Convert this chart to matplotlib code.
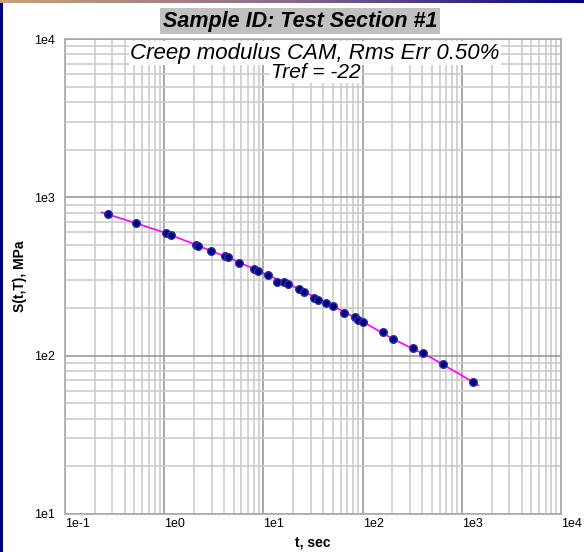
import numpy as np
import matplotlib.pyplot as plt
from matplotlib.ticker import LogLocator, FixedLocator, NullFormatter
from matplotlib.colors import LinearSegmentedColormap

plt.rcParams['font.family'] = ['Liberation Sans', 'DejaVu Sans']

# measured creep modulus points
t_data = [0.273, 0.52, 1.035, 1.163, 2.09, 2.21, 2.96, 4.10, 4.43, 5.71,
          8.10, 8.89, 11.1, 13.6, 16.1, 17.5, 22.7, 25.5, 32.1, 35.3,
          43.1, 50.3, 65.2, 83.2, 90.5, 101.6, 159.5, 201, 324, 406,
          642, 1297]
s_data = [781, 685, 593, 575, 502, 493, 458, 428, 418, 387,
          353, 342, 323, 293, 290, 284, 263, 251, 232, 225,
          214, 206, 187, 175, 168, 163, 141, 128, 111, 103.5,
          88, 68.2]

# CAM fit curve
t_fit = [0.234, 0.5, 1, 2, 5, 10, 20, 50, 100, 200, 500, 1000, 1467]
s_fit = [804, 692, 600, 507, 403, 332, 274, 206, 164, 128, 96.5, 75, 65]

x_ticks = [1e-1, 1e0, 1e1, 1e2, 1e3, 1e4]
x_labels = ['1e-1', '1e0', '1e1', '1e2', '1e3', '1e4']
y_ticks = [1e1, 1e2, 1e3, 1e4]
y_labels = ['1e1', '1e2', '1e3', '1e4']

fig = plt.figure(figsize=(5.84, 5.52), dpi=100)

# slide frame decoration: navy strip at left, gradient bar at top
strip = fig.add_axes([0, 0, 3 / 584, 1])
strip.set_axis_off()
strip.add_patch(plt.Rectangle((0, 0), 1, 1, color='#000080', transform=strip.transAxes))
bar = fig.add_axes([0, 1 - 3 / 552, 1, 3 / 552])
grad = np.linspace(0, 1, 256)[None, :]
cmap = LinearSegmentedColormap.from_list('bar', ['#c8a27a', '#8a6a8a', '#000080'])
bar.imshow(grad, aspect='auto', cmap=cmap)
bar.set_axis_off()

ax = fig.add_axes([65 / 584, 38 / 552, 496 / 584, 475 / 552])
ax.set_xscale('log')
ax.set_yscale('log')
ax.set_xlim(1e-1, 1e4)
ax.set_ylim(1e1, 1e4)

ax.xaxis.set_minor_locator(LogLocator(base=10, subs=np.arange(2, 10), numticks=20))
ax.yaxis.set_minor_locator(LogLocator(base=10, subs=np.arange(2, 10), numticks=20))
ax.xaxis.set_minor_formatter(NullFormatter())
ax.yaxis.set_minor_formatter(NullFormatter())
ax.set_xticks(x_ticks)
ax.set_xticklabels(x_labels, ha='left', fontsize=9)
ax.set_yticks(y_ticks)
ax.set_yticklabels(y_labels, fontsize=9)
ax.tick_params(which='both', length=0)
ax.tick_params(axis='x', pad=3)
ax.tick_params(axis='y', pad=7)

ax.grid(True, which='minor', color='#cccccc', linewidth=1.2)
ax.grid(True, which='major', color='#999999', linewidth=1.2)
ax.set_axisbelow(True)
for sp in ax.spines.values():
    sp.set_color('#aaaaaa')
    sp.set_linewidth(1.2)

ax.plot(t_fit, s_fit, color='#ff00ff', linewidth=1.2, zorder=3)
ax.plot(t_data, s_data, 'o', color='#000080', markeredgecolor='#3030a0',
        markersize=5.5, zorder=4)

ax.set_xlabel('t, sec', fontweight='bold', fontsize=10, labelpad=4)
ax.set_ylabel('S(t,T), MPa', fontweight='bold', fontsize=10, labelpad=5)

fig.text(300 / 584, 1 - 21 / 552, 'Sample ID: Test Section #1', ha='center', va='center',
         fontsize=15.5, fontweight='bold', fontstyle='italic',
         bbox=dict(facecolor='#c0c0c0', edgecolor='none', pad=2))
ax.text(250 / 496, 1 - 14 / 475, 'Creep modulus CAM, Rms Err 0.50%', transform=ax.transAxes,
        ha='center', va='center', fontsize=16, fontstyle='italic',
        bbox=dict(facecolor='white', edgecolor='none', pad=1), zorder=5)
ax.text(251 / 496, 1 - 33.5 / 475, 'Tref = -22', transform=ax.transAxes,
        ha='center', va='center', fontsize=15, fontstyle='italic',
        bbox=dict(facecolor='white', edgecolor='none', pad=1), zorder=5)

fig.savefig('out.png', dpi=100)
